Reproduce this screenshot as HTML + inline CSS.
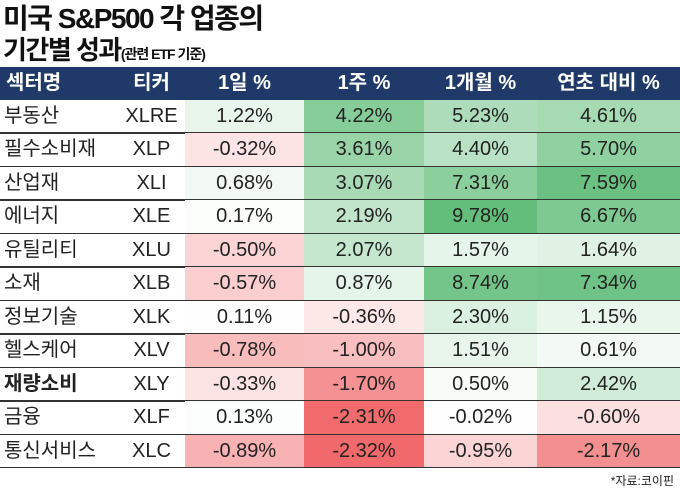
<!DOCTYPE html>
<html><head><meta charset="utf-8">
<style>
body{margin:0;width:680px;height:495px;background:#fff;overflow:hidden;font-family:"Liberation Sans","Noto Sans CJK KR",sans-serif;}
#t1{position:absolute;left:3px;top:3px;font-size:28px;line-height:32px;font-weight:bold;letter-spacing:-1.5px;color:#111;}
#t2{position:absolute;left:3px;top:35px;font-size:26px;line-height:30px;font-weight:bold;letter-spacing:-1.5px;color:#111;}
#t2 span{font-size:14px;letter-spacing:-1px;}
#hdr{position:absolute;left:0;top:67px;width:680px;height:33px;background:#1f3a68;}
.h{position:absolute;top:0;height:33px;line-height:33px;color:#fff;font-size:20px;font-weight:bold;text-align:center;}
.c{position:absolute;height:33px;line-height:33px;font-size:20px;color:#222;text-align:center;}
.line{position:absolute;left:0;width:680px;height:1.5px;background:#333;}
#src{position:absolute;right:6px;top:472px;font-size:12px;color:#222;}
</style></head><body>
<div id="t1">미국 S&amp;P500 각 업종의</div>
<div id="t2">기간별 성과<span>(관련 ETF 기준)</span></div>
<div id="hdr"></div>
<div id="tbl"></div>
<div id="src">*자료:코이핀</div>
<script>
const sectors=["부동산","필수소비재","산업재","에너지","유틸리티","소재","정보기술","헬스케어","재량소비","금융","통신서비스"];
const tickers=["XLRE","XLP","XLI","XLE","XLU","XLB","XLK","XLV","XLY","XLF","XLC"];
const day1=[1.22,-0.32,0.68,0.17,-0.50,-0.57,0.11,-0.78,-0.33,0.13,-0.89];
const week1=[4.22,3.61,3.07,2.19,2.07,0.87,-0.36,-1.00,-1.70,-2.31,-2.32];
const month1=[5.23,4.40,7.31,9.78,1.57,8.74,2.30,1.51,0.50,-0.02,-0.95];
const ytd=[4.61,5.70,7.59,6.67,1.64,7.34,1.15,0.61,2.42,-0.60,-2.17];
const headers=["섹터명","티커","1일 %","1주 %","1개월 %","연초 대비 %"];
const colX=[0,118,185,304,424,537,680];
const posDiv=[8,5.5,9.8,8];
const negDiv=[1.8,2.4,3.5,3];
const top0=100,rh=33.45;
const tbl=document.getElementById('tbl');
const hdr=document.getElementById('hdr');
headers.forEach((h,i)=>{const d=document.createElement('div');d.className='h';


d.style.left=colX[i]+'px';d.style.width=(colX[i+1]-colX[i])+'px';d.textContent=h;
if(i==0){d.style.textAlign='left';d.style.left='6px';}
hdr.appendChild(d);});
function color(v,k){
  if(v>=0){const t=Math.min(1,v/posDiv[k]);return `rgb(${Math.round(255-(255-99)*t)},${Math.round(255-(255-190)*t)},${Math.round(255-(255-123)*t)})`;}
  const t=Math.min(1,-v/negDiv[k]);return `rgb(${Math.round(255-(255-240)*t)},${Math.round(255-(255-100)*t)},${Math.round(255-(255-102)*t)})`;
}
const series=[day1,week1,month1,ytd];
sectors.forEach((s,r)=>{
  const y=top0+r*rh;
  const a=document.createElement('div');a.className='c';
  
  
  a.style.left='4px';a.style.top=y+'px';a.style.textAlign='left';a.textContent=s;
  if(s==="재량소비")a.style.fontWeight='bold';
  tbl.appendChild(a);
  const b=document.createElement('div');b.className='c';
  
  
  b.style.left=colX[1]+'px';b.style.width=(colX[2]-colX[1])+'px';b.style.top=y+'px';b.textContent=tickers[r];
  tbl.appendChild(b);
  series.forEach((arr,k)=>{
    const c=document.createElement('div');c.className='c';
    
    
    c.style.left=colX[k+2]+'px';c.style.width=(colX[k+3]-colX[k+2])+'px';c.style.top=y+'px';c.style.height=rh+'px';
    c.style.background=color(arr[r],k);c.textContent=arr[r].toFixed(2)+'%';
    tbl.appendChild(c);
  });
  const l=document.createElement('div');l.className='line';
  
  
  l.style.top=(y+rh-1)+'px';tbl.appendChild(l);
});
</script>
</body></html>
